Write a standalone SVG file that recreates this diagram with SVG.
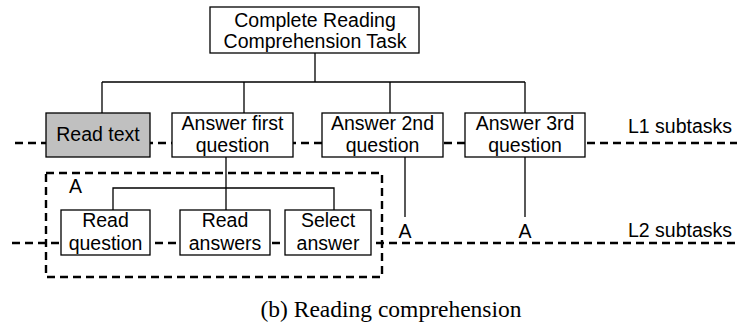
<svg xmlns="http://www.w3.org/2000/svg" width="737" height="328" viewBox="0 0 737 328">
<style>
.box{fill:#fff;stroke:#000;stroke-width:1.3}
.gray{fill:#c0c0c0;stroke:#000;stroke-width:1.3}
.ln{fill:none;stroke:#000;stroke-width:1.3}
.dash{fill:none;stroke:#000;stroke-width:2.4;stroke-dasharray:8 5}
text{font-family:"Liberation Sans",Arial,sans-serif;font-size:19.5px;fill:#000;text-anchor:middle}
.lbl{text-anchor:start}
.cap{font-family:"Liberation Serif","Times New Roman",serif;font-size:23.5px}
</style>
<rect width="737" height="328" fill="#fff"/>
<g id="levels">
<line class="dash" x1="15" y1="143" x2="737" y2="143"/>
<line class="dash" x1="12" y1="243" x2="737" y2="243"/>
<rect id="groupA" class="dash" x="46" y="173" width="336" height="104"/>
</g>
<g id="connectors">
<path class="ln" d="M315 53V82M102 82H525M102 82V113M244 82V113M390 82V113M525 82V113"/>
<path class="ln" d="M226 157V210M113 210V188H334V210"/>
<path class="ln" d="M405 157V217M525 157V217"/>
</g>
<g id="root"><rect class="box" x="210" y="7" width="209" height="46"/><text x="315" y="27">Complete Reading</text><text x="315" y="48">Comprehension Task</text></g>
<g id="readText"><rect class="gray" x="46" y="113" width="104" height="44"/><text x="98" y="141">Read text</text></g>
<g id="answer1"><rect class="box" x="172" y="113" width="121" height="44"/><text x="232.5" y="130">Answer first</text><text x="232.5" y="152">question</text></g>
<g id="answer2"><rect class="box" x="322" y="113" width="121" height="44"/><text x="382.5" y="130">Answer 2nd</text><text x="382.5" y="152">question</text></g>
<g id="answer3"><rect class="box" x="465" y="113" width="120" height="44"/><text x="525" y="130">Answer 3rd</text><text x="525" y="152">question</text></g>
<g id="readQuestion"><rect class="box" x="61" y="210" width="89" height="45"/><text x="105.5" y="227">Read</text><text x="105.5" y="250">question</text></g>
<g id="readAnswers"><rect class="box" x="180" y="210" width="90" height="45"/><text x="225" y="227">Read</text><text x="225" y="250">answers</text></g>
<g id="selectAnswer"><rect class="box" x="285" y="210" width="86" height="45"/><text x="328" y="227">Select</text><text x="328" y="250">answer</text></g>
<g id="labels">
<text class="lbl" x="69" y="193">A</text>
<text x="405" y="238">A</text>
<text x="525" y="238">A</text>
<text class="lbl" x="628" y="133">L1 subtasks</text>
<text class="lbl" x="628" y="237">L2 subtasks</text>
<text class="cap" x="391" y="317">(b) Reading comprehension</text>
</g>
</svg>
